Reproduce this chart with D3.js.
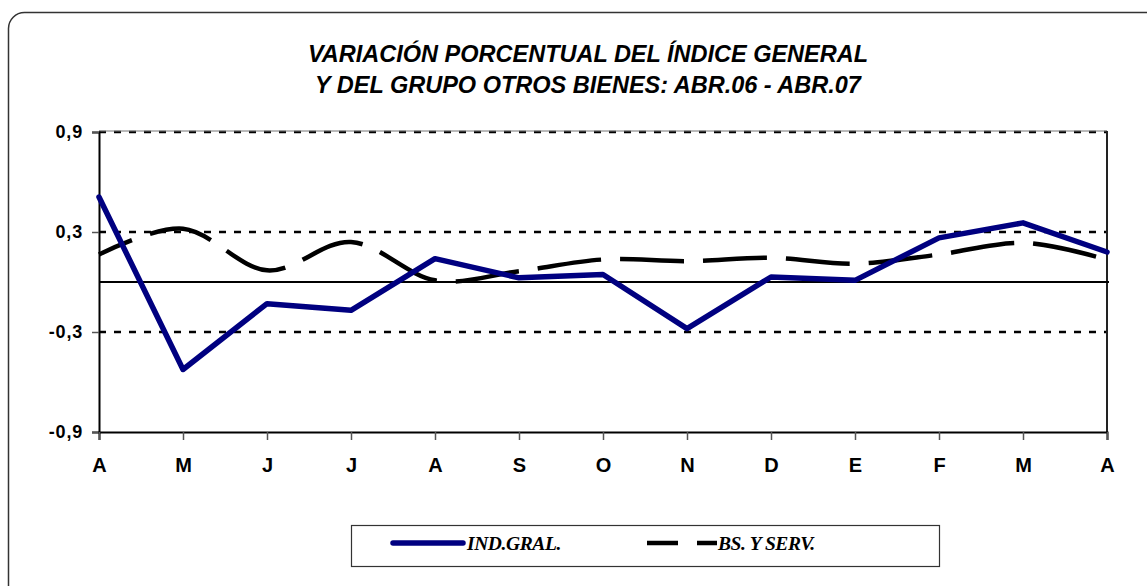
<!DOCTYPE html>
<html>
<head>
<meta charset="utf-8">
<script src="https://cdn.jsdelivr.net/npm/d3@7"></script>
<style>
  body { margin: 0; background: #fff; }
  svg { display: block; }
</style>
</head>
<body>
<svg width="1147" height="586"></svg>
<script>
// Data
var months = ["A", "M", "J", "J", "A", "S", "O", "N", "D", "E", "F", "M", "A"];
var indGral = [0.51, -0.525, -0.13, -0.17, 0.14, 0.025, 0.045, -0.28, 0.03, 0.01, 0.265, 0.355, 0.18];
var bsServ = [0.165, 0.32, 0.07, 0.24, 0.01, 0.065, 0.135, 0.125, 0.145, 0.11, 0.165, 0.235, 0.135];
var yTicks = [0.9, 0.3, -0.3, -0.9];
var gridVals = [0.9, 0.3, -0.3];
var titleLines = ["VARIACIÓN PORCENTUAL DEL ÍNDICE GENERAL", "Y DEL GRUPO OTROS BIENES: ABR.06 - ABR.07"];
var legendNames = ["IND.GRAL.", "BS. Y SERV."];

var svg = d3.select("svg"),
    plotLeft = 99, plotRight = 1107, plotTop = 132, plotBottom = 432;

// outer rounded frame (runs past the picture right/bottom)
svg.append("rect")
    .attr("x", 8.5).attr("y", 12.5)
    .attr("width", 1160).attr("height", 600)
    .attr("rx", 16).attr("ry", 16)
    .attr("fill", "none").attr("stroke", "#333").attr("stroke-width", 1.5);

// Title
svg.append("g").selectAll("text")
    .data(titleLines)
    .enter().append("text")
    .attr("x", 588)
    .attr("y", function(d, i) { return 62 + i * 31; })
    .attr("text-anchor", "middle")
    .style("font-family", "Arial, 'Liberation Sans', sans-serif")
    .style("font-weight", "bold")
    .style("font-style", "italic")
    .style("font-size", "23.5px")
    .text(function(d) { return d; });

var x = d3.scalePoint().domain(d3.range(months.length)).range([plotLeft, plotRight]);
var y = d3.scaleLinear().domain([-0.9, 0.9]).range([plotBottom, plotTop]);

// dotted gridlines
svg.append("g").selectAll("line")
    .data(gridVals)
    .enter().append("line")
    .attr("x1", plotLeft).attr("x2", plotRight)
    .attr("y1", function(d) { return y(d); })
    .attr("y2", function(d) { return y(d); })
    .attr("stroke", "#000")
    .attr("stroke-width", 2.5)
    .attr("stroke-dasharray", "7,8");

// plot border top
svg.append("line")
    .attr("x1", plotLeft).attr("x2", plotRight).attr("y1", plotTop - 1).attr("y2", plotTop - 1)
    .attr("stroke", "#777").attr("stroke-width", 1);

// right border
svg.append("line")
    .attr("x1", plotRight).attr("x2", plotRight).attr("y1", plotTop - 1).attr("y2", plotBottom)
    .attr("stroke", "#222").attr("stroke-width", 2);

// zero line
svg.append("line")
    .attr("x1", plotLeft).attr("x2", plotRight + 2)
    .attr("y1", y(0)).attr("y2", y(0))
    .attr("stroke", "#000").attr("stroke-width", 2);

// Y axis
var yAxis = d3.axisLeft(y).tickValues(yTicks).tickSize(7).tickPadding(9)
    .tickFormat(function(d) { return d3.format(".1f")(d).replace(".", ",").replace("−", "-"); });
var gy = svg.append("g").attr("transform", "translate(" + plotLeft + ",0)").call(yAxis);
gy.select(".domain").attr("stroke", "#000").attr("stroke-width", 2);
gy.selectAll(".tick line").attr("stroke", "#555").attr("stroke-width", 1.5);
gy.selectAll("text")
    .style("font-family", "Arial, 'Liberation Sans', sans-serif")
    .style("font-weight", "bold").style("font-size", "18px")
    .style("letter-spacing", "0.8px").attr("fill", "#000");

// X axis
var xAxis = d3.axisBottom(x).tickSize(8).tickPadding(18)
    .tickFormat(function(i) { return months[i]; });
var gx = svg.append("g").attr("transform", "translate(0," + plotBottom + ")").call(xAxis);
gx.select(".domain").attr("stroke", "#000").attr("stroke-width", 2);
gx.selectAll(".tick line").attr("stroke", "#555").attr("stroke-width", 1.5);
gx.selectAll("text")
    .style("font-family", "Arial, 'Liberation Sans', sans-serif")
    .style("font-weight", "bold").style("font-size", "20px").attr("fill", "#000");

// BS. Y SERV. smoothed dashed line
var lineSmooth = d3.line()
    .x(function(d, i) { return x(i); })
    .y(function(d) { return y(d); })
    .curve(d3.curveCardinal.tension(0));
svg.append("path")
    .datum(bsServ)
    .attr("d", lineSmooth)
    .attr("fill", "none")
    .attr("stroke", "#000")
    .attr("stroke-width", 4.5)
    .attr("stroke-dasharray", "64,19")
    .attr("stroke-dashoffset", 28);

// IND.GRAL. solid navy line
var lineStraight = d3.line()
    .x(function(d, i) { return x(i); })
    .y(function(d) { return y(d); });
svg.append("path")
    .datum(indGral)
    .attr("d", lineStraight)
    .attr("fill", "none")
    .attr("stroke", "#000080")
    .attr("stroke-width", 5.5)
    .attr("stroke-linejoin", "round")
    .attr("stroke-linecap", "round");

// Legend
var lg = svg.append("g");
lg.append("rect")
    .attr("x", 351.5).attr("y", 525.5).attr("width", 588).attr("height", 41)
    .attr("fill", "#fff").attr("stroke", "#333").attr("stroke-width", 1.2);
lg.append("line")
    .attr("x1", 393).attr("x2", 463).attr("y1", 543).attr("y2", 543)
    .attr("stroke", "#000080").attr("stroke-width", 5.5).attr("stroke-linecap", "round");
lg.append("line")
    .attr("x1", 647).attr("x2", 717).attr("y1", 543).attr("y2", 543)
    .attr("stroke", "#000").attr("stroke-width", 4.5).attr("stroke-dasharray", "31,19");
lg.selectAll("text")
    .data(legendNames)
    .enter().append("text")
    .attr("x", function(d, i) { return i === 0 ? 467 : 718; })
    .attr("y", 550)
    .style("font-family", "'Liberation Serif', 'Times New Roman', serif")
    .style("font-weight", "bold").style("font-style", "italic")
    .style("font-size", "19.5px")
    .style("letter-spacing", "-0.4px")
    .text(function(d) { return d; });
</script>
</body>
</html>
